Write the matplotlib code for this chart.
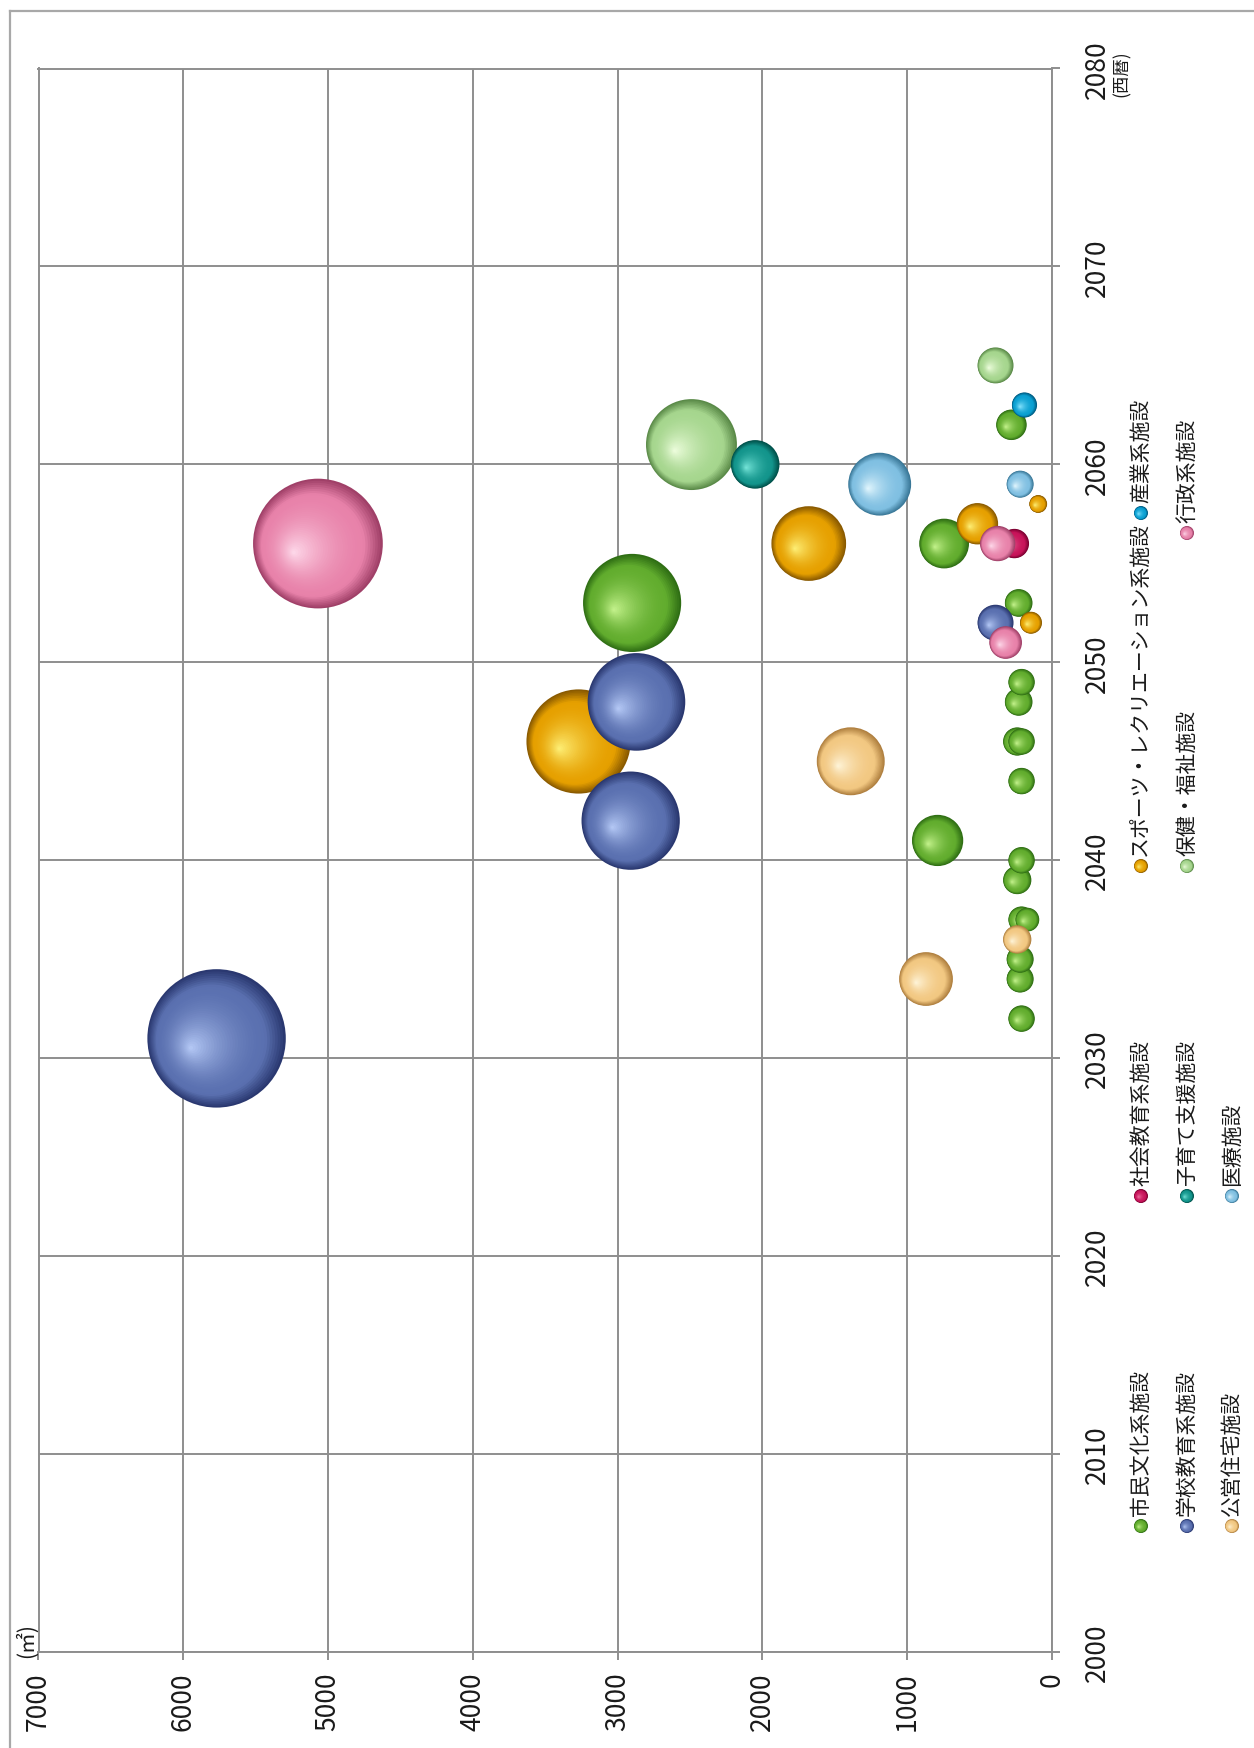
import matplotlib
matplotlib.use("Agg")
import matplotlib.pyplot as plt
import matplotlib.colors as mcolors
from matplotlib.lines import Line2D
import numpy as np

plt.rcParams['font.family'] = ['Noto Sans CJK JP', 'DejaVu Sans']

W, H, DPI = 1254, 1749, 100
GRID = '#8e8e8e'

# ---- data (year, floor area m2, bubble size) ----
shimin_years = [2032, 2034, 2035, 2037, 2037, 2039, 2040, 2041, 2044, 2046, 2046, 2048, 2049, 2053, 2053, 2056, 2062]
shimin_area = [210, 220, 220, 210, 170, 240, 210, 790, 210, 240, 210, 230, 210, 2900, 230, 745, 280]

shakai_years = [2056]
shakai_area = [260]

sports_years = [2046, 2052, 2056, 2057, 2058]
sports_area = [3270, 145, 1680, 515, 95]

sangyo_years = [2063]
sangyo_area = [190]

gakko_years = [2031, 2042, 2048, 2052]
gakko_area = [5770, 2910, 2870, 390]

kosodate_years = [2060]
kosodate_area = [2050]
kosodate_size = [710]

hoken_years = [2061, 2065]
hoken_area = [2490, 390]

gyosei_years = [2051, 2056, 2056]
gyosei_area = [320, 5070, 375]

koei_years = [2034, 2036, 2045]
koei_area = [870, 240, 1390]

iryo_years = [2059, 2059]
iryo_area = [1190, 220]

year_ticks = [2000, 2010, 2020, 2030, 2040, 2050, 2060, 2070, 2080]
area_ticks = [0, 1000, 2000, 3000, 4000, 5000, 6000, 7000]

# name, years, areas, sizes, (dark, base, highlight)
series = [
    ('市民文化系施設', shimin_years, shimin_area, shimin_area, ('#2f6e14', '#62ad2e', '#c8f590')),
    ('社会教育系施設', shakai_years, shakai_area, shakai_area, ('#7a0030', '#c8145a', '#f27aa8')),
    ('スポーツ・レクリエーション系施設', sports_years, sports_area, sports_area, ('#8a5a00', '#e6a000', '#fff27a')),
    ('産業系施設', sangyo_years, sangyo_area, sangyo_area, ('#005a80', '#0aa0d2', '#8ae6ff')),
    ('学校教育系施設', gakko_years, gakko_area, gakko_area, ('#2a3870', '#5a70b0', '#b8ccf8')),
    ('子育て支援施設', kosodate_years, kosodate_area, kosodate_size, ('#00504a', '#13958c', '#7ae8dc')),
    ('保健・福祉施設', hoken_years, hoken_area, hoken_area, ('#5a8a48', '#a6d68e', '#f0ffe0')),
    ('行政系施設', gyosei_years, gyosei_area, gyosei_area, ('#a04068', '#e882aa', '#ffdcec')),
    ('公営住宅施設', koei_years, koei_area, koei_area, ('#b08040', '#f2c882', '#fff6dc')),
    ('医療施設', iryo_years, iryo_area, iryo_area, ('#3a7898', '#80c0e2', '#e6f8ff')),
]
draw_order = ['市民文化系施設', '社会教育系施設', 'スポーツ・レクリエーション系施設', '産業系施設',
              '保健・福祉施設', '学校教育系施設', '子育て支援施設', '行政系施設', '公営住宅施設', '医療施設']
legend_cols = [['市民文化系施設', '社会教育系施設', 'スポーツ・レクリエーション系施設', '産業系施設'],
               ['学校教育系施設', '子育て支援施設', '保健・福祉施設', '行政系施設'],
               ['公営住宅施設', '医療施設']]


def shade(cols, t):
    dark, base, hl = [np.array(mcolors.to_rgb(c)) for c in cols]
    w1 = min(t / 0.2, 1.0)
    c = dark + (base - dark) * w1
    w2 = max(0.0, (t - 0.2) / 0.8) ** 1.8
    return c + (hl - c) * w2


def draw_sphere(axis, x, y, r, cols, z, n=36):
    px, py = axis.transData.transform((x, y))
    ts = np.linspace(0, 0.97, n)
    cx = px - 0.38 * r * ts
    cy = py - 0.14 * r * ts
    pts = axis.transData.inverted().transform(np.column_stack([cx, cy]))
    rad = r * (1 - ts)
    axis.scatter(pts[:, 0], pts[:, 1], s=(2 * rad * 72 / DPI) ** 2,
                 c=[shade(cols, t) for t in ts], linewidths=0, zorder=z, clip_on=False)


fig = plt.figure(figsize=(W / DPI, H / DPI), dpi=DPI)
fig.patch.set_facecolor('white')

left, right, top, bottom = 38.5, 1052, 69.5, 1653
ax = fig.add_axes([left / W, 1 - bottom / H, (right - left) / W, (bottom - top) / H])
ax.set_xlim(7000, 0)
ax.set_ylim(2000, 2080)
ax.set_xticks(area_ticks)
ax.set_yticks(year_ticks)
ax.yaxis.tick_right()
ax.grid(True, color=GRID, lw=1.4)
ax.set_axisbelow(True)
for sp in ax.spines.values():
    sp.set_color(GRID)
    sp.set_linewidth(1.4)
ax.tick_params(length=6, width=1.4, color=GRID, labelsize=19, labelcolor='#1a1a1a')
ax.tick_params(axis='x', labelrotation=90, pad=8)
ax.tick_params(axis='y', labelrotation=90, pad=17)
plt.setp(ax.get_yticklabels(), va='center', ha='left')
plt.setp(ax.get_xticklabels(), va='top', ha='center')

z = 3
for name in draw_order:
    s = [t for t in series if t[0] == name][0]
    items = sorted(zip(s[1], s[2], s[3]), key=lambda v: -v[2])
    for yr, area, size in items:
        draw_sphere(ax, area, yr, np.sqrt(0.83 * size), s[4], z)
        z += 1

# overlay in pixel coordinates for legend, unit labels and outer frame
ov = fig.add_axes([0, 0, 1, 1])
ov.set_xlim(0, W)
ov.set_ylim(H, 0)
ov.axis('off')

ov.add_line(Line2D([10, W], [12, 12], color='#a8a8a8', lw=1.6))
ov.add_line(Line2D([10, 10], [12, H], color='#a8a8a8', lw=1.6))

ov.text(1122, 74, '(西暦)', rotation=90, fontsize=12.5, ha='center', va='center', color='#1a1a1a')
ov.text(27, 1641, '(㎡)', rotation=90, fontsize=15, ha='center', va='center', color='#1a1a1a')

col_x = [1141, 1187, 1232]
row_y = [[1527, 1197, 867, 514], [1527, 1197, 867, 534], [1527, 1197]]
colors = {t[0]: t[4] for t in series}
for ci, names in enumerate(legend_cols):
    for ri, name in enumerate(names):
        draw_sphere(ov, col_x[ci], row_y[ci][ri], 7, colors[name], 5, n=16)
        ov.text(col_x[ci], row_y[ci][ri] - 11, name, rotation=90, fontsize=15,
                ha='center', va='bottom', color='#1a1a1a')

fig.savefig('out.png', dpi=DPI, facecolor='white')
